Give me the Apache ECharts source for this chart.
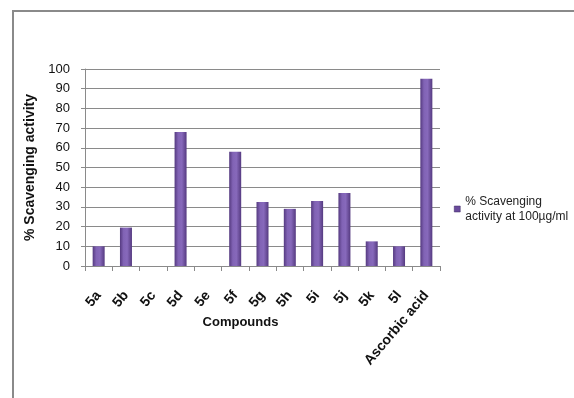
<!DOCTYPE html>
<html><head><meta charset="utf-8">
<script src="https://cdn.jsdelivr.net/npm/echarts@6/dist/echarts.min.js"></script>
<style>
html,body{margin:0;padding:0;background:#fff;}
#frame{position:absolute;left:12px;top:10px;width:600px;height:420px;border-left:2px solid #8a8a8a;border-top:2px solid #8a8a8a;}
#c{position:absolute;left:0;top:0;width:574px;height:398px;}
</style></head>
<body>
<div id="frame"></div>
<div id="c"></div>
<script>
const categories = ['5a','5b','5c','5d','5e','5f','5g','5h','5i','5j','5k','5l','Ascorbic acid'];
const values = [10, 19.5, 0, 68, 0, 58, 32.5, 29, 33, 37, 12.5, 10, 95];
const seriesName = '% Scavenging activity at 100µg/ml';
const yTicks = [0,10,20,30,40,50,60,70,80,90,100];

const chart = echarts.init(document.getElementById('c'), null, {renderer:'canvas'});
const barColor = new echarts.graphic.LinearGradient(0,0,1,0,[
  {offset:0, color:'#553a80'},
  {offset:0.3, color:'#8163b5'},
  {offset:0.6, color:'#8769bb'},
  {offset:1, color:'#553a80'}
]);
chart.setOption({
  animation:false,
  grid:{left:85, right:134, top:69, bottom:132, containLabel:false},
  legend:{
    show:true, orient:'vertical', left:449, top:189,
    itemWidth:6, itemHeight:6, itemGap:4,
    icon:'rect',
    data:[{name:seriesName, itemStyle:{color:'#6a4b9c', borderColor:'#3d2860', borderWidth:0.5}}],
    formatter:function(){return '% Scavenging\nactivity at 100µg/ml';},
    textStyle:{fontFamily:'Liberation Sans, Arial', fontSize:12, color:'#222', lineHeight:15}
  },
  xAxis:{
    type:'category', data:categories,
    name:'Compounds', nameLocation:'middle', nameGap:50, nameMoveOverlap:false,
    nameTextStyle:{fontFamily:'Liberation Sans, Arial', fontWeight:'bold', fontSize:13, color:'#111', padding:[0,44,0,0]},
    axisLine:{lineStyle:{color:'#8a8a8a', width:1}},
    axisTick:{show:true, alignWithLabel:false, length:5, lineStyle:{color:'#8a8a8a'}},
    axisLabel:{rotate:50, interval:0, margin:27, fontFamily:'Liberation Sans, Arial', fontWeight:'bold', fontSize:14, color:'#111'}
  },
  yAxis:{
    type:'value', min:0, max:100, interval:10,
    name:'% Scavenging activity', nameLocation:'middle', nameGap:46, nameRotate:90,
    nameTextStyle:{fontFamily:'Liberation Sans, Arial', fontWeight:'bold', fontSize:14, color:'#111'},
    axisLine:{show:true, lineStyle:{color:'#8a8a8a'}},
    axisTick:{show:true, length:4, inside:false, lineStyle:{color:'#8a8a8a'}},
    splitLine:{show:true, lineStyle:{color:'#8a8a8a', width:1}},
    axisLabel:{margin:15, fontFamily:'Liberation Sans Narrow, Liberation Sans, Arial', fontSize:13, color:'#111',
      formatter:function(v){return yTicks.indexOf(v)>=0 ? String(v) : '';}}
  },
  series:[{
    name:seriesName, type:'bar', data:values, barWidth:12,
    itemStyle:{color:barColor, borderWidth:0},
  }]
});
</script>
</body></html>
